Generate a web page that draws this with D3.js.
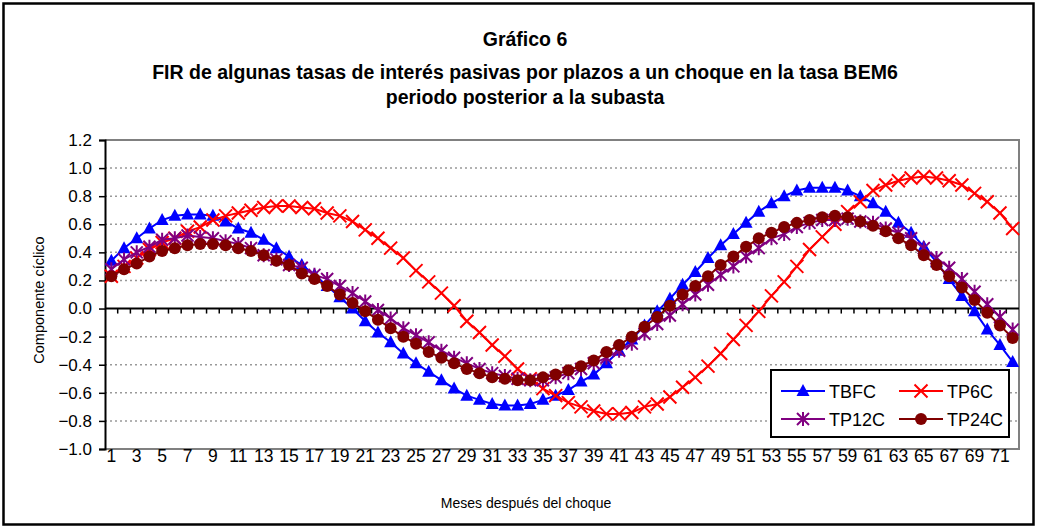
<!DOCTYPE html>
<html>
<head>
<meta charset="utf-8">
<script src="https://cdn.jsdelivr.net/npm/d3@7"></script>
<style>
  html, body { margin: 0; padding: 0; background: #fff; }
  svg text { font-family: "Liberation Sans", Arial, sans-serif; fill: #000; }
</style>
</head>
<body>
<svg id="chart" width="1039" height="529"></svg>
<script>
// ---------- data ----------
const months = d3.range(1, 73);
const tickLabels = d3.range(1, 72, 2);
const yTicks = [-1.0, -0.8, -0.6, -0.4, -0.2, 0.0, 0.2, 0.4, 0.6, 0.8, 1.0, 1.2];

const TBFC = [0.34,0.43,0.50,0.57,0.63,0.66,0.67,0.67,0.66,0.62,0.57,0.54,0.49,0.43,0.37,0.31,0.24,0.16,0.08,0.00,
  -0.09,-0.17,-0.24,-0.32,-0.39,-0.45,-0.51,-0.57,-0.62,-0.65,-0.68,-0.69,-0.69,-0.68,-0.65,-0.62,-0.58,-0.52,-0.47,-0.39,
  -0.30,-0.22,-0.12,-0.02,0.07,0.17,0.26,0.36,0.45,0.53,0.61,0.69,0.75,0.80,0.84,0.86,0.86,0.86,0.84,0.80,
  0.75,0.69,0.61,0.54,0.44,0.33,0.21,0.09,-0.02,-0.15,-0.26,-0.38];
const TP6C = [0.23,0.30,0.36,0.42,0.47,0.50,0.55,0.58,0.63,0.66,0.68,0.70,0.72,0.73,0.73,0.72,0.71,0.68,0.66,0.62,
  0.56,0.50,0.43,0.36,0.27,0.19,0.11,0.02,-0.09,-0.17,-0.26,-0.34,-0.43,-0.50,-0.57,-0.62,-0.67,-0.70,-0.73,-0.75,
  -0.75,-0.74,-0.70,-0.68,-0.63,-0.56,-0.49,-0.41,-0.32,-0.22,-0.12,-0.02,0.09,0.19,0.30,0.42,0.51,0.60,0.69,0.76,
  0.84,0.88,0.91,0.93,0.94,0.93,0.91,0.88,0.82,0.76,0.68,0.57];
const TP12C = [0.28,0.35,0.40,0.44,0.49,0.50,0.52,0.51,0.50,0.48,0.46,0.43,0.38,0.35,0.31,0.29,0.24,0.21,0.16,0.11,
  0.05,-0.01,-0.07,-0.14,-0.19,-0.24,-0.30,-0.35,-0.39,-0.43,-0.46,-0.48,-0.50,-0.51,-0.51,-0.49,-0.46,-0.43,-0.39,-0.35,
  -0.30,-0.25,-0.18,-0.11,-0.05,0.03,0.10,0.17,0.24,0.30,0.37,0.43,0.50,0.53,0.58,0.61,0.63,0.63,0.64,0.62,
  0.61,0.57,0.54,0.50,0.43,0.36,0.29,0.21,0.12,0.03,-0.06,-0.15];
const TP24C = [0.23,0.28,0.32,0.37,0.41,0.43,0.45,0.46,0.46,0.45,0.43,0.41,0.38,0.34,0.31,0.25,0.21,0.16,0.10,0.04,
  -0.02,-0.08,-0.14,-0.20,-0.25,-0.31,-0.35,-0.39,-0.43,-0.46,-0.49,-0.50,-0.51,-0.51,-0.49,-0.47,-0.44,-0.41,-0.37,-0.31,
  -0.26,-0.20,-0.13,-0.06,0.02,0.10,0.16,0.23,0.31,0.37,0.44,0.50,0.54,0.58,0.61,0.63,0.65,0.66,0.65,0.62,
  0.59,0.55,0.50,0.45,0.38,0.31,0.23,0.15,0.06,-0.03,-0.12,-0.21];

const seriesNames = ["TBFC", "TP6C", "TP12C", "TP24C"];
const seriesValues = [TBFC, TP6C, TP12C, TP24C];
const seriesColors = ["#0000FF", "#FF0000", "#800080", "#800000"];
const seriesMarkers = ["triangle", "x", "star", "circle"];

const titleLines = ["Gráfico 6",
  "FIR de algunas tasas de interés pasivas por plazos a un choque en la tasa BEM6",
  "periodo posterior a la subasta"];
const xTitle = "Meses después del choque";
const yTitle = "Componente cíclico";

// ---------- layout ----------
const plot = { left: 105, right: 1019, top: 140, bottom: 449 };
const svg = d3.select("#chart");

// outer frame
svg.append("rect").attr("x", 3.5).attr("y", 3.5).attr("width", 1030).attr("height", 521)
  .attr("fill", "#fff").attr("stroke", "#000").attr("stroke-width", 2.5);

const x = d3.scaleBand().domain(months).range([plot.left, plot.right]).paddingInner(0).paddingOuter(0);
const cx = d => x(d) + x.bandwidth() / 2;
const y = d3.scaleLinear().domain([-1.0, 1.2]).range([plot.bottom, plot.top]);

// title
const titleY = [46, 79, 104];
titleLines.forEach((t, i) => {
  svg.append("text").attr("x", 525).attr("y", titleY[i]).attr("text-anchor", "middle")
    .attr("font-size", 19.5).attr("font-weight", "bold").text(t);
});

// gridlines (dotted)
svg.append("g").selectAll("line").data(yTicks.filter(v => v !== 0 && v !== 1.2 && v !== -1.0))
  .join("line")
  .attr("x1", plot.left).attr("x2", plot.right)
  .attr("y1", d => y(d)).attr("y2", d => y(d))
  .attr("stroke", "#999").attr("stroke-width", 1.5).attr("stroke-dasharray", "2,3");

// plot border (top, right, bottom) grey
svg.append("path")
  .attr("d", `M${plot.left},${y(1.2)}H${plot.right}V${y(-1.0)}H${plot.left}`)
  .attr("fill", "none").attr("stroke", "#808080").attr("stroke-width", 2);

// y axis
const yAxis = d3.axisLeft(y).tickValues(yTicks).tickFormat(d3.format(".1f")).tickSize(6).tickPadding(7);
const gy = svg.append("g").attr("transform", `translate(${plot.left},0)`).call(yAxis);
gy.select(".domain").attr("stroke", "#000").attr("stroke-width", 2);
gy.selectAll(".tick line").attr("stroke", "#000").attr("stroke-width", 1.5);
gy.selectAll(".tick text").attr("font-size", 17).attr("font-family", "Liberation Sans, Arial, sans-serif");

// x axis at zero with ticks at category boundaries
const gx = svg.append("g").attr("transform", `translate(0,${y(0)})`);
gx.append("line").attr("x1", plot.left).attr("x2", plot.right).attr("stroke", "#000").attr("stroke-width", 2);
gx.selectAll("line.tk").data(months.slice(1)).join("line").attr("class", "tk")
  .attr("x1", d => x(d)).attr("x2", d => x(d)).attr("y1", 0).attr("y2", 5)
  .attr("stroke", "#000").attr("stroke-width", 1.5);

// x tick labels below the plot
svg.append("g").selectAll("text").data(tickLabels).join("text")
  .attr("x", d => cx(d)).attr("y", 462).attr("text-anchor", "middle")
  .attr("font-size", 17.5).text(d => d);

// axis titles
svg.append("text").attr("x", 526).attr("y", 508).attr("text-anchor", "middle")
  .attr("font-size", 14).text(xTitle);
svg.append("text").attr("transform", `translate(44,300) rotate(-90)`).attr("text-anchor", "middle")
  .attr("font-size", 14.5).text(yTitle);

// markers
function drawMarker(g, type, color) {
  if (type === "triangle") {
    g.append("path").attr("d", "M0,-7L6.5,5L-6.5,5Z").attr("fill", color);
  } else if (type === "circle") {
    g.append("circle").attr("r", 6).attr("fill", color);
  } else if (type === "x") {
    g.append("path").attr("d", "M-6.5,-6.5L6.5,6.5M-6.5,6.5L6.5,-6.5").attr("stroke", color).attr("stroke-width", 2).attr("fill", "none");
  } else if (type === "star") {
    g.append("path").attr("d", "M-6,-6L6,6M-6,6L6,-6M0,-7V7").attr("stroke", color).attr("stroke-width", 2).attr("fill", "none");
  }
}

const line = d3.line().x((d, i) => cx(months[i])).y(d => y(d));
seriesValues.forEach((vals, s) => {
  const g = svg.append("g");
  g.append("path").attr("d", line(vals)).attr("fill", "none")
    .attr("stroke", seriesColors[s]).attr("stroke-width", 2);
  vals.forEach((v, i) => {
    const mg = g.append("g").attr("transform", `translate(${cx(months[i])},${y(v)})`);
    drawMarker(mg, seriesMarkers[s], seriesColors[s]);
  });
});

// legend
const lg = svg.append("g");
const lgBox = { x: 771, y: 370, w: 238, h: 67 };
lg.append("rect").attr("x", lgBox.x).attr("y", lgBox.y).attr("width", lgBox.w).attr("height", lgBox.h)
  .attr("fill", "#fff").attr("stroke", "#000").attr("stroke-width", 2);
seriesNames.forEach((name, i) => {
  const col = i % 2, row = Math.floor(i / 2);
  const x0 = lgBox.x + 10 + col * 118;
  const yy = lgBox.y + 21 + row * 28;
  lg.append("line").attr("x1", x0).attr("x2", x0 + 44).attr("y1", yy).attr("y2", yy)
    .attr("stroke", seriesColors[i]).attr("stroke-width", 2);
  const mg = lg.append("g").attr("transform", `translate(${x0 + 22},${yy})`);
  drawMarker(mg, seriesMarkers[i], seriesColors[i]);
  lg.append("text").attr("x", x0 + 48).attr("y", yy + 7).attr("font-size", 18).text(name);
});
</script>
</body>
</html>
